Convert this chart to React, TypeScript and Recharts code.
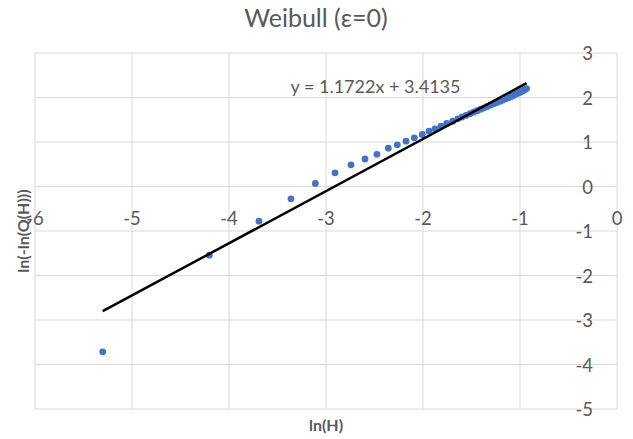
import React from 'react';
import { ScatterChart, Scatter, XAxis, YAxis, CartesianGrid, ReferenceDot } from 'recharts';

const lnH = [
  -5.302, -4.203, -3.691, -3.361, -3.110, -2.907, -2.742, -2.598, -2.475, -2.358,
  -2.265, -2.175, -2.090, -2.007, -1.938, -1.876, -1.814, -1.756, -1.694, -1.642,
  -1.598, -1.556, -1.515, -1.478, -1.440, -1.404, -1.370, -1.336, -1.302, -1.270,
  -1.238, -1.206, -1.176, -1.146, -1.118, -1.090, -1.064, -1.040, -1.016, -0.994,
  -0.972, -0.952, -0.932,
];
const lnLnQ = [
  -3.715, -1.544, -0.780, -0.277, 0.067, 0.307, 0.487, 0.618, 0.723, 0.861,
  0.936, 1.018, 1.094, 1.169, 1.243, 1.296, 1.355, 1.416, 1.468, 1.521,
  1.562, 1.598, 1.636, 1.670, 1.705, 1.738, 1.768, 1.800, 1.830, 1.858,
  1.888, 1.915, 1.944, 1.970, 1.996, 2.022, 2.050, 2.076, 2.100, 2.124,
  2.148, 2.174, 2.200,
];
const trendX = [-5.302, -0.932];
const trendY = [-2.8015, 2.321];
const xTicks = [-6, -5, -4, -3, -2, -1, 0];
const yTicks = [3, 2, 1, 0, -1, -2, -3, -4, -5];
const titleText = 'Weibull (ε=0)';
const xTitle = 'ln(H)';
const yTitle = 'ln(-ln(Q(H)))';
const equationText = 'y = 1.1722x + 3.4135';
const equationPos = { x: -2.49, y: 2.25 };

const points = lnH.map((x, i) => ({ x, y: lnLnQ[i] }));
const trend = trendX.map((x, i) => ({ x, y: trendY[i] }));

const FONT = 'Lato, Carlito, Calibri, "Open Sans", sans-serif';
const GREY = '#595959';

export default function App() {
  return (
    <div style={{ position: 'absolute', left: 0, top: 0, width: 633, height: 439, background: '#fff', fontFamily: FONT }}>
      <ScatterChart width={633} height={439} margin={{ top: 53, right: 16, bottom: 30, left: 35 }}>
        <CartesianGrid stroke="#d9d9d9" strokeWidth={1} />
        <XAxis type="number" dataKey="x" domain={[-6, 0]} ticks={xTicks} hide allowDataOverflow />
        <YAxis type="number" dataKey="y" domain={[-5, 3]} ticks={yTicks} hide allowDataOverflow />
        <Scatter
          data={points}
          fill="#4472C4"
          isAnimationActive={false}
          shape={(p: any) => <circle cx={p.cx} cy={p.cy} r={3.4} fill="#4472C4" />}
        />
        <Scatter
          data={trend}
          isAnimationActive={false}
          line={{ stroke: '#000', strokeWidth: 2.5 }}
          shape={() => <g />}
        />
        {xTicks.map((t) => (
          <ReferenceDot
            key={'xt' + t}
            x={t}
            y={0}
            ifOverflow="visible"
            shape={(p: any) => (
              <text x={p.cx} y={p.cy + 31} textAnchor="middle" dominantBaseline="central" fontSize={18.5} fill={GREY} fontFamily={FONT}>
                {String(t)}
              </text>
            )}
          />
        ))}
        {yTicks.map((t) => (
          <ReferenceDot
            key={'yt' + t}
            x={0}
            y={t}
            ifOverflow="visible"
            shape={(p: any) => (
              <text x={p.cx - 24} y={p.cy} textAnchor="end" dominantBaseline="central" fontSize={18.5} fill={GREY} fontFamily={FONT}>
                {String(t)}
              </text>
            )}
          />
        ))}
        <ReferenceDot
          x={equationPos.x}
          y={equationPos.y}
          ifOverflow="visible"
          shape={(p: any) => (
            <text x={p.cx} y={p.cy} textAnchor="middle" dominantBaseline="central" fontSize={18} fill={GREY} fontFamily={FONT}>
              {equationText}
            </text>
          )}
        />
      </ScatterChart>
      <div style={{ position: 'absolute', left: 316, top: 17, transform: 'translate(-50%, -50%)', fontSize: 25, lineHeight: 1, color: GREY, whiteSpace: 'nowrap' }}>
        {titleText}
      </div>
      <div style={{ position: 'absolute', left: 326, top: 425, transform: 'translate(-50%, -50%)', fontSize: 16, fontWeight: 'bold', lineHeight: 1, color: GREY, whiteSpace: 'nowrap' }}>
        {xTitle}
      </div>
      <div style={{ position: 'absolute', left: 23, top: 231, transform: 'translate(-50%, -50%) rotate(-90deg)', fontSize: 16, fontWeight: 'bold', lineHeight: 1, color: GREY, whiteSpace: 'nowrap' }}>
        {yTitle}
      </div>
    </div>
  );
}
